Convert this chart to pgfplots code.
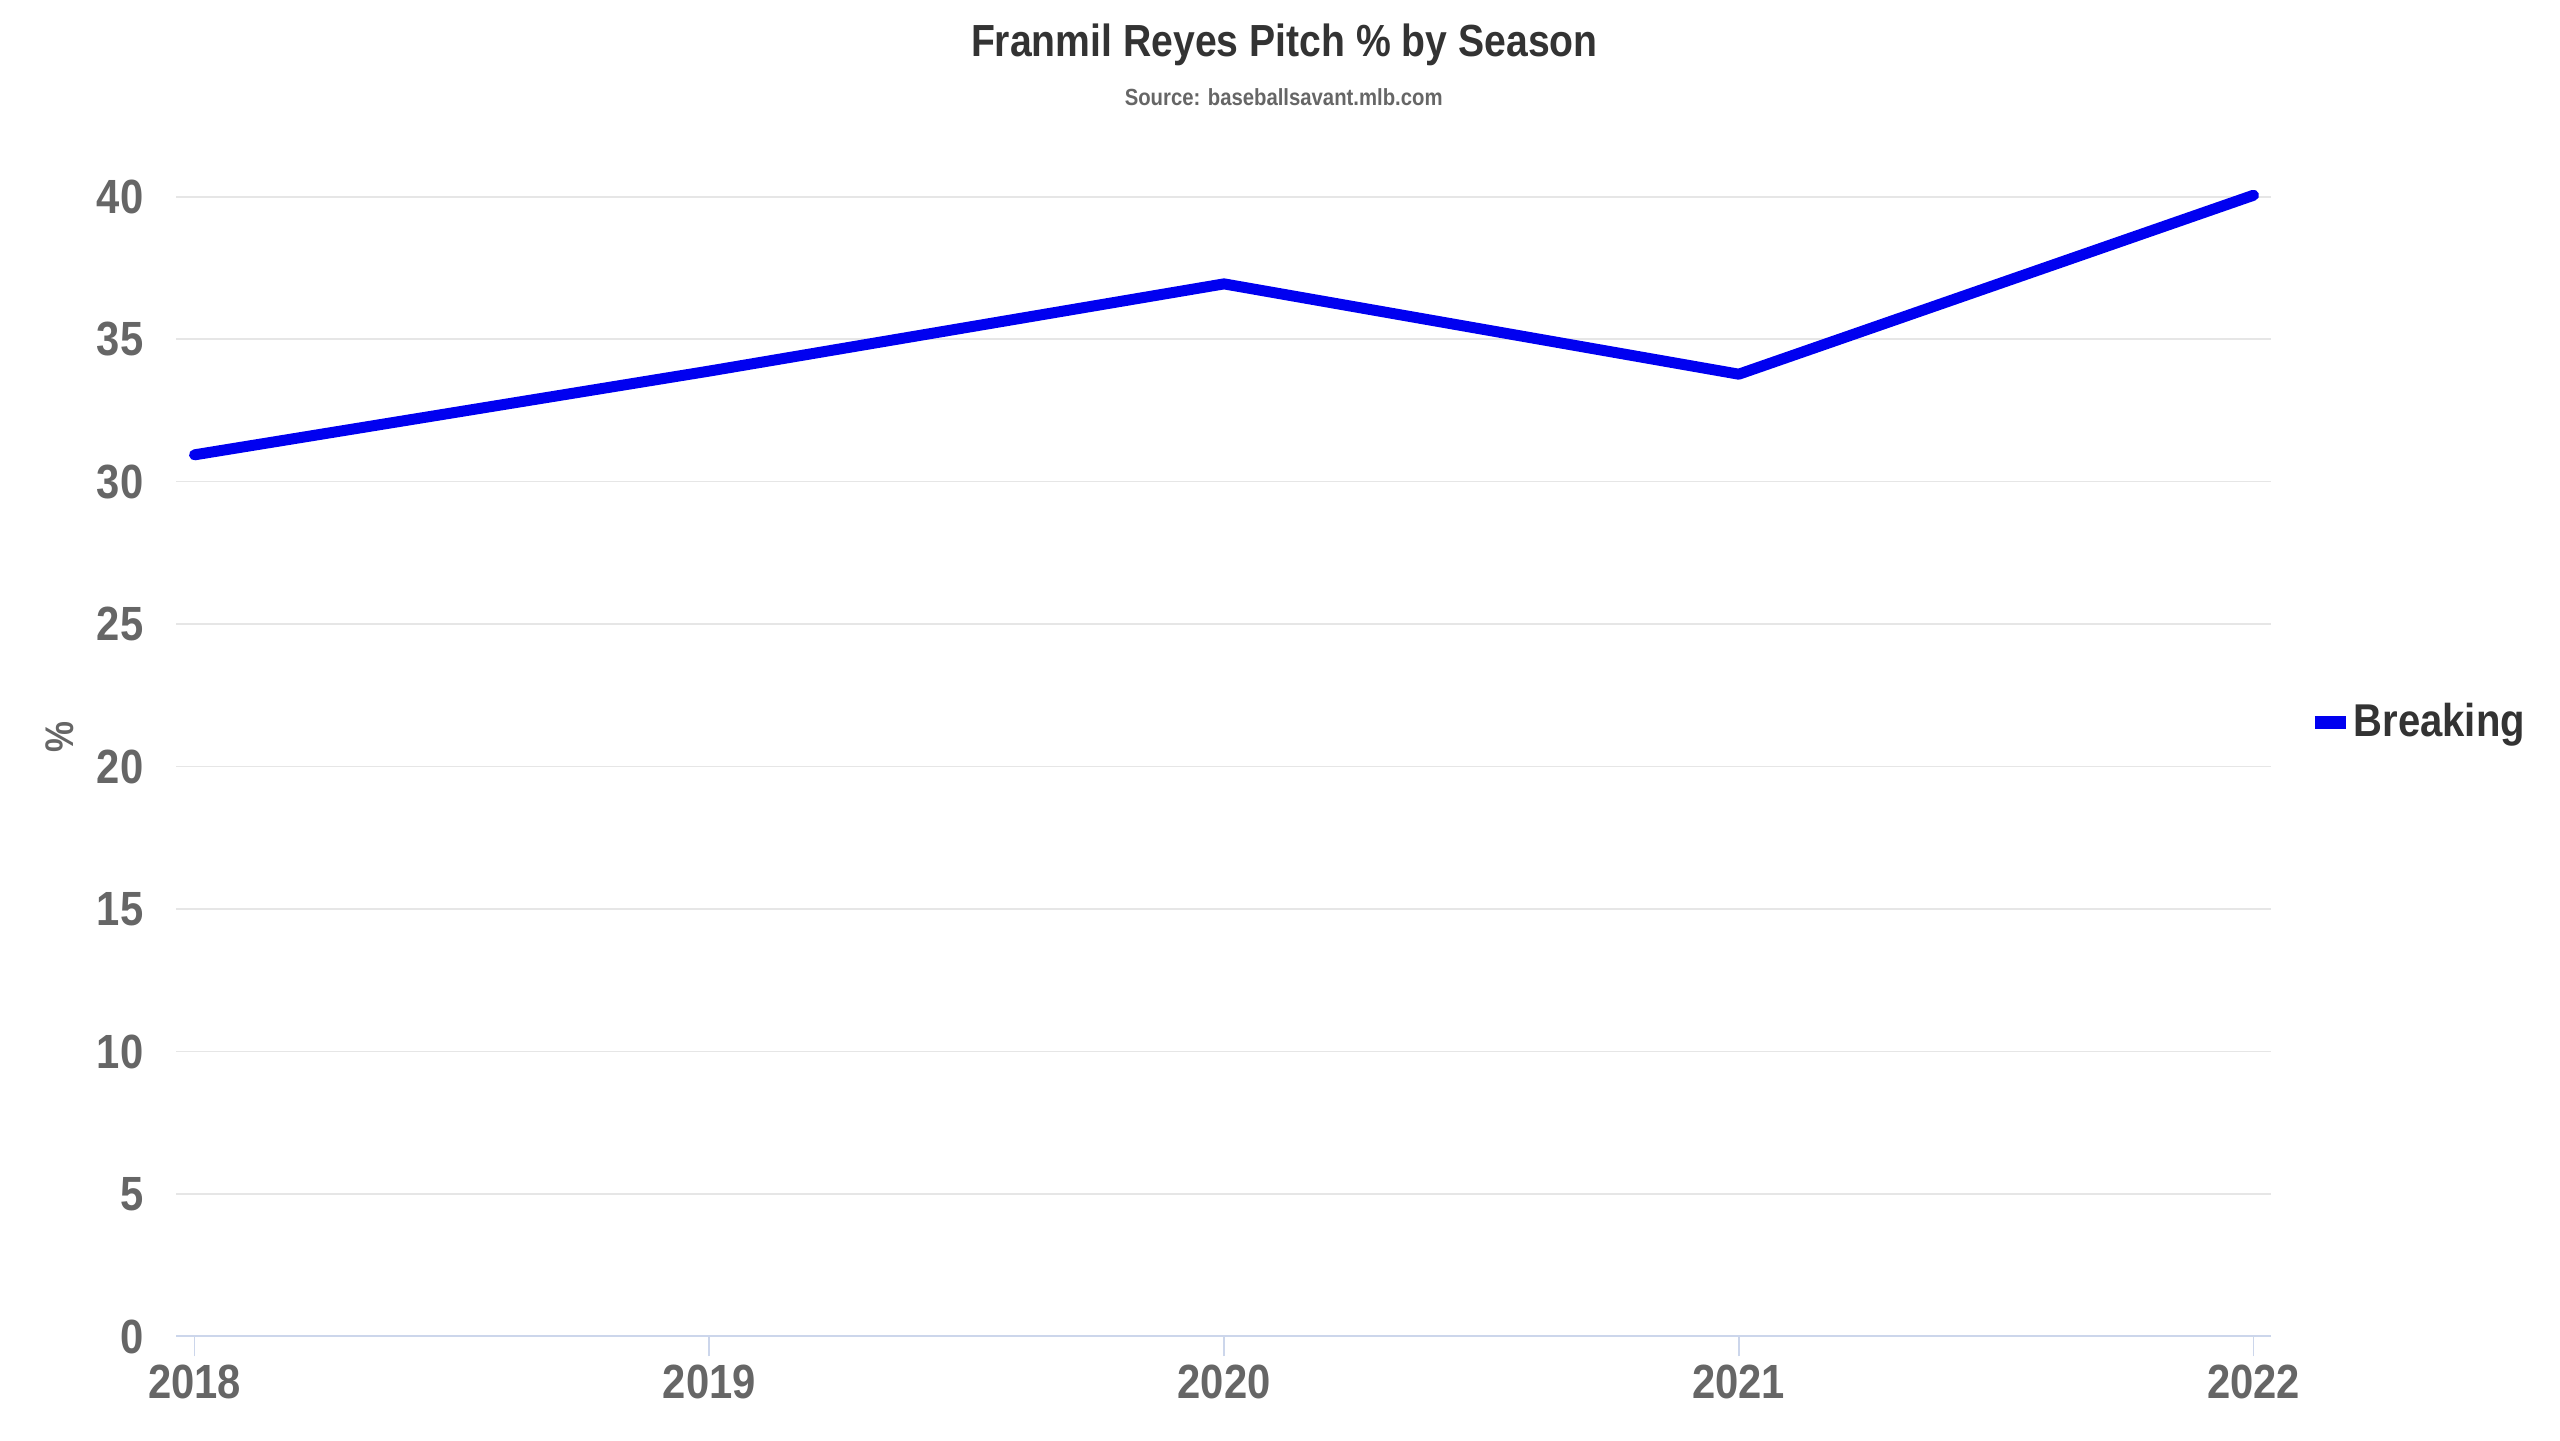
\documentclass[border=0pt]{standalone}
\usepackage{fontspec}
\setmainfont{Liberation Sans}[FakeStretch=0.87]
\usepackage{pgfplots}
\pgfplotsset{compat=1.18}
\definecolor{titlec}{HTML}{333333}
\definecolor{tickc}{HTML}{666666}
\definecolor{gridc}{HTML}{E6E6E6}
\definecolor{axisc}{HTML}{CCD6EB}
\definecolor{linec}{HTML}{0000F0}
\begin{document}
\begin{tikzpicture}
\path[use as bounding box] (-52.8pt,-31.35pt) rectangle ++(768pt,432.3pt);
\begin{axis}[
  at={(0pt,0pt)}, anchor=south west, scale only axis,
  width=628.5pt, height=341.94pt,
  xmin=2017.964, xmax=2022.034, ymin=0, ymax=40,
  xtick={2018,2019,2020,2021,2022},
  xticklabels={2018,2019,2020,2021,2022},
  ytick={0,5,...,40},
  axis x line*=bottom, axis y line*=left,
  y axis line style={draw=none},
  x axis line style={draw=axisc, line width=0.6pt},
  ymajorgrids, grid style={draw=gridc, line width=0.5pt},
  ytick style={draw=none},
  xtick style={draw=axisc, line width=0.5pt},
  tick align=outside, major tick length=6pt,
  /pgf/number format/assume math mode=true,
  ticklabel style={font=\fontsize{14.4}{16}\selectfont\bfseries, text=tickc},
  yticklabel style={anchor=east, inner sep=0pt, xshift=-3.6pt},
  xticklabel style={anchor=base, inner sep=0pt, yshift=-12.75pt},
  clip=false,
  legend style={at={(1.0175,0.5387)}, anchor=west, draw=none, fill=none,
    inner sep=0pt, nodes={inner sep=0pt}, column sep=0.5pt,
    font=\fontsize{13.8}{16}\selectfont\bfseries, text=titlec},
  legend image code/.code={\draw[line width=3.9pt, line cap=butt] (0pt,0pt) -- (9.2pt,0pt);},
]
\addplot[linec, line width=3.3pt, line join=round, line cap=round]
  coordinates {(2018,30.94) (2019,33.88) (2020,36.94) (2021,33.77) (2022,40.05)};
\addlegendentry{Breaking}
\end{axis}
\node[anchor=base, text=titlec, font=\fontsize{13.5}{16}\selectfont\bfseries] at (332.5pt,383.85pt) {Franmil Reyes Pitch \% by Season};
\node[anchor=base, text=tickc, font=\fontsize{7.0}{9}\selectfont\bfseries] at (332.3pt,369.15pt) {Source: baseballsavant.mlb.com};
\node[rotate=90, text=tickc, font=\fontsize{12}{14}\selectfont\bfseries, inner sep=0pt] at (-34.8pt,179.85pt) {\%};
\end{tikzpicture}
\end{document}
